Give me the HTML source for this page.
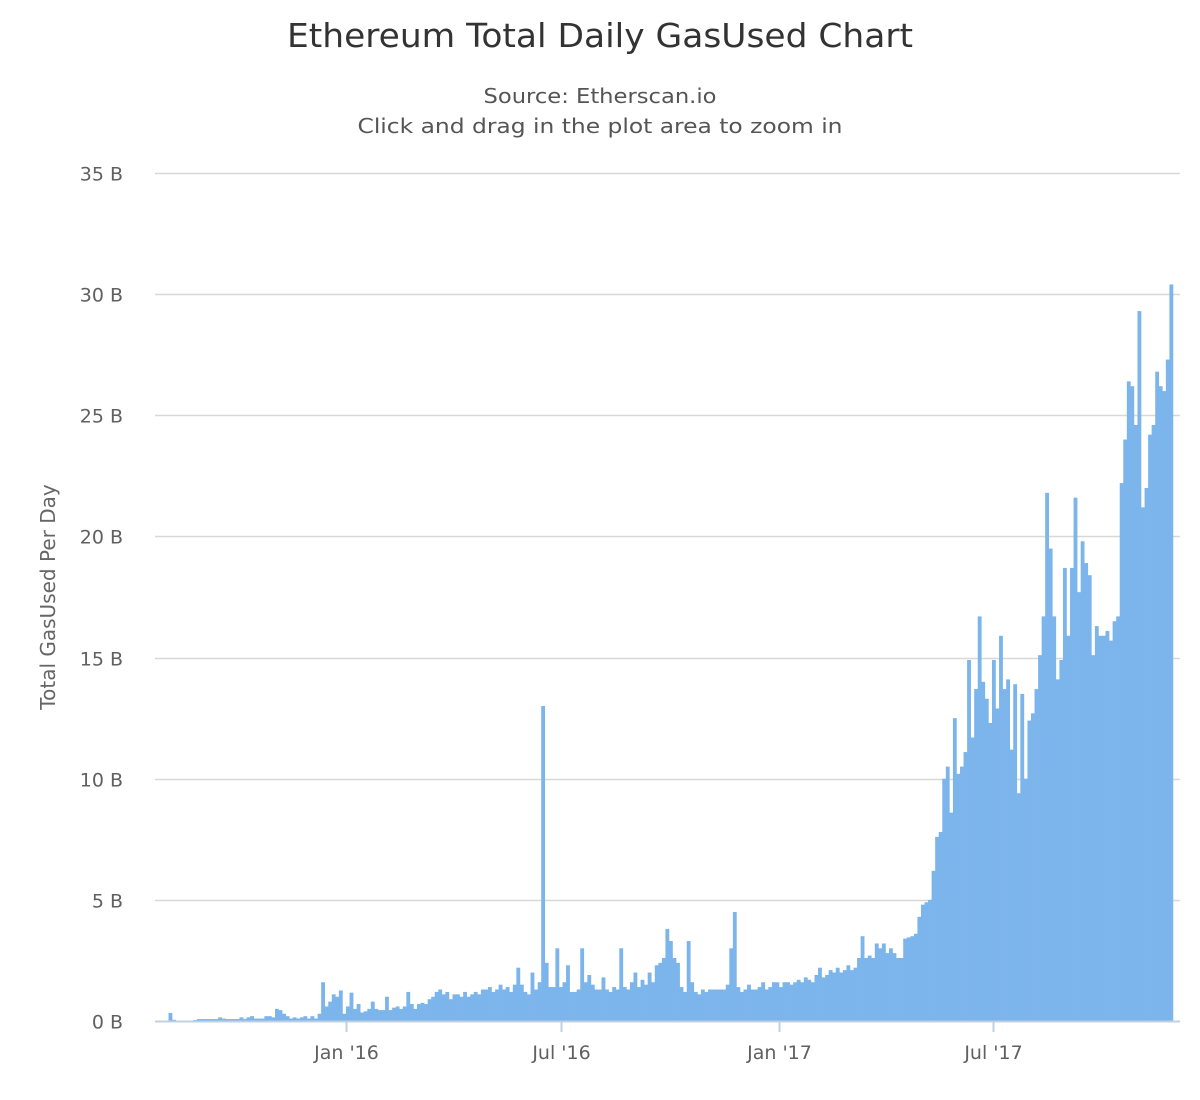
<!DOCTYPE html>
<html><head><meta charset="utf-8"><style>
html,body{margin:0;padding:0;background:#fff;}
svg{display:block;font-family:"DejaVu Sans","Liberation Sans",sans-serif;}
</style></head><body>
<svg id="chart" width="1200" height="1100" viewBox="0 0 1200 1100">
<rect width="1200" height="1100" fill="#fff"/>
<text x="600" y="47" text-anchor="middle" font-size="33" fill="#333" textLength="626" lengthAdjust="spacingAndGlyphs">Ethereum Total Daily GasUsed Chart</text>
<text x="600" y="103" text-anchor="middle" font-size="20" fill="#555" textLength="233" lengthAdjust="spacingAndGlyphs">Source: Etherscan.io</text>
<text x="600" y="133" text-anchor="middle" font-size="20" fill="#555" textLength="485" lengthAdjust="spacingAndGlyphs">Click and drag in the plot area to zoom in</text>
<text transform="translate(55,597) rotate(-90)" text-anchor="middle" font-size="20" fill="#666">Total GasUsed Per Day</text>
<g id="grid"></g>
<g id="bars"></g>
<g id="xaxis"></g>
</svg>
<script>
const yTickValues = [0,5,10,15,20,25,30,35];
const yTickLabels = ["0 B","5 B","10 B","15 B","20 B","25 B","30 B","35 B"];
const xTickLabels = ["Jan '16","Jul '16","Jan '17","Jul '17"];
const xTickDates = ["2016-01-01","2016-07-01","2017-01-01","2017-07-01"];
const startDate = "2015-07-26";
const binDays = 3;
const gasUsedB = [
0,0,0,0.33,0.05,0,0,0,0,0,0.04,
0.08,0.08,0.08,0.08,0.08,0.08,0.15,0.1,0.08,0.08,0.08,0.08,0.15,0.08,0.15,0.2,0.1,0.1,0.1,0.2,
0.2,0.15,0.5,0.45,0.3,0.2,0.1,0.15,0.1,0.15,0.2,0.1,0.2,0.1,0.3,1.6,0.6,0.8,1.1,1.0,
1.26,0.3,0.6,1.17,0.5,0.7,0.35,0.4,0.5,0.8,0.5,0.45,0.45,1.0,0.45,0.55,0.6,0.5,0.6,1.2,
0.7,0.5,0.7,0.75,0.7,0.9,1.0,1.2,1.3,1.1,1.2,0.9,1.1,1.1,1.0,1.2,1.0,1.1,1.2,1.1,
1.3,1.3,1.4,1.2,1.3,1.5,1.3,1.4,1.2,1.5,2.2,1.5,1.2,1.1,2.0,1.3,1.6,13.0,2.4,1.4,
1.4,3.0,1.4,1.6,2.3,1.2,1.2,1.3,3.0,1.6,1.9,1.5,1.3,1.3,1.8,1.3,1.2,1.4,1.3,3.0,
1.4,1.3,1.6,2.0,1.4,1.7,1.5,2.0,1.6,2.3,2.4,2.6,3.8,3.3,2.6,2.4,1.4,1.2,3.3,1.6,
1.2,1.1,1.3,1.2,1.3,1.3,1.3,1.3,1.3,1.5,3.0,4.5,1.4,1.2,1.3,1.5,1.3,1.3,1.4,1.6,
1.3,1.4,1.6,1.6,1.4,1.6,1.6,1.5,1.6,1.7,1.6,1.8,1.7,1.6,1.9,2.2,1.8,1.9,2.1,2.0,
2.2,2.0,2.1,2.3,2.1,2.2,2.6,3.5,2.6,2.7,2.6,3.2,3.0,3.2,2.8,3.0,2.8,
2.6,2.6,3.4,3.45,3.5,3.6,4.3,4.8,4.9,5.0,6.2,7.6,7.8,10.0,10.5,8.6,12.5,10.2,10.5,11.1,
14.9,11.7,13.7,16.7,14.0,13.3,12.3,14.9,12.9,15.9,13.7,14.1,11.2,13.9,9.4,13.5,10.0,12.4,12.7,13.7,
15.1,16.7,21.8,19.5,16.7,14.1,14.9,18.7,15.9,18.7,21.6,17.7,19.8,18.9,18.4,15.1,16.3,15.9,15.9,16.1,
15.7,16.5,16.7,22.2,24.0,26.4,26.2,24.6,29.3,21.2,22.0,24.2,24.6,26.8,26.2,26.0,27.3,30.4
];

const NS = "http://www.w3.org/2000/svg";
const plotL = 155, plotR = 1180, y0px = 1021, yTopPx = 173, yMax = 35;
const refDate = Date.parse("2016-01-01"), refX = 346, pxPerDay = (779 - 346) / 366;
function yScale(v){ return y0px - (v / yMax) * (y0px - yTopPx); }
function xScale(dateMs){ return refX + (dateMs - refDate) / 86400000 * pxPerDay; }
function mk(tag, attrs){ const e = document.createElementNS(NS, tag); for (const k in attrs) e.setAttribute(k, attrs[k]); return e; }

const grid = document.getElementById('grid');
yTickValues.forEach((v, i) => {
  const y = Math.round(yScale(v)) + 0.5;
  if (v > 0) {
    const ln = mk('line', {x1: plotL, x2: plotR, y1: y, y2: y, stroke: '#d8d8d8', 'stroke-width': 1.5});
    
    
    grid.appendChild(ln);
  }
  const t = mk('text', {x: 123, y: y + 7, 'text-anchor': 'end', 'font-size': 19, fill: '#606060'});
  t.textContent = yTickLabels[i];
  
  
  grid.appendChild(t);
});

const bars = document.getElementById('bars');
const start = Date.parse(startDate);
const bw = binDays * pxPerDay;
gasUsedB.forEach((v, i) => {
  const x = xScale(start + i * binDays * 86400000);
  const y = yScale(v);
  const r = mk('rect', {x: x.toFixed(2), y: y.toFixed(2), width: (bw + 0.3).toFixed(2), height: Math.max(0, y0px - y).toFixed(2), fill: '#7cb5ec'});
  
  
  bars.appendChild(r);
});

const xa = document.getElementById('xaxis');
const axisLine = mk('line', {x1: plotL, x2: plotR, y1: 1021.5, y2: 1021.5, stroke: '#c0d0e0', 'stroke-width': 2});


xa.appendChild(axisLine);
xTickDates.forEach((d, i) => {
  const x = Math.round(xScale(Date.parse(d))) + 0.5;
  const tk = mk('line', {x1: x, x2: x, y1: 1021, y2: 1032, stroke: '#c0d0e0', 'stroke-width': 2});
  
  
  xa.appendChild(tk);
  const t = mk('text', {x: x, y: 1059, 'text-anchor': 'middle', 'font-size': 19, fill: '#606060'});
  t.textContent = xTickLabels[i];
  
  
  xa.appendChild(t);
});
</script>
</body></html>
